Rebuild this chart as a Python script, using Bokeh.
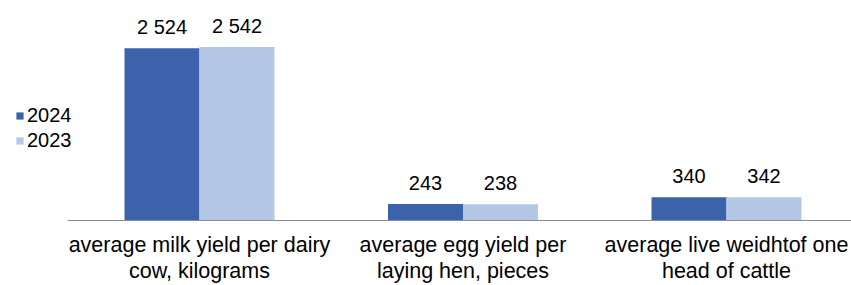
from bokeh.plotting import figure
from bokeh.models import ColumnDataSource, Legend, LegendItem, FixedTicker
from bokeh.embed import file_html
from bokeh.resources import INLINE
from bokeh.core.properties import value
import numpy as np

categories = ["average milk yield per dairy\ncow, kilograms",
              "average egg yield per\nlaying hen, pieces",
              "average live weidhtof one\nhead of cattle"]
series_names = ["2024", "2023"]
values_2024 = [2524, 243, 340]
values_2023 = [2542, 238, 342]

colors = ["#3B62AB", "#B4C7E7"]
FONT = "Liberation Sans"

x = np.arange(len(categories))
bw = 0.2846
off = bw / 2

def fmt(v):
    return f"{v:,}".replace(",", " ")

p = figure(width=851, height=285, output_backend="svg", toolbar_location=None,
           x_range=(-0.7552, 2.4744), y_range=(0, 3224),
           min_border_left=0, min_border_right=0, min_border_top=0, min_border_bottom=0)

src1 = ColumnDataSource(dict(x=x - off, top=values_2024, lab=[fmt(v) for v in values_2024]))
src2 = ColumnDataSource(dict(x=x + off, top=values_2023, lab=[fmt(v) for v in values_2023]))

r1 = p.vbar(x="x", top="top", width=bw, source=src1, fill_color=colors[0], line_color=None)
r2 = p.vbar(x="x", top="top", width=bw, source=src2, fill_color=colors[1], line_color=None)

for s in (src1, src2):
    p.text(x="x", y="top", text="lab", source=s, text_align="center", text_baseline="alphabetic",
           y_offset=-21, text_font=value(FONT), text_font_size="20px", text_color="#000000")

p.yaxis.visible = False
p.xgrid.visible = False
p.ygrid.visible = False
p.outline_line_color = None

ax = p.xaxis[0]
ax.bounds = (-0.501, 2.4744)
ax.ticker = FixedTicker(ticks=list(x))
ax.major_label_overrides = {int(i): c for i, c in zip(x, categories)}
ax.major_tick_line_color = None
ax.minor_tick_line_color = None
ax.axis_line_color = "#8C8C8C"
ax.axis_line_width = 1
ax.major_label_text_font = FONT
ax.major_label_text_font_size = "21.5px"
ax.major_label_text_line_height = 1.1
ax.major_label_text_color = "#000000"
ax.major_label_standoff = 6

legend = Legend(items=[LegendItem(label=series_names[0], renderers=[r1]),
                       LegendItem(label=series_names[1], renderers=[r2])],
                location=(15, 68), glyph_width=9, glyph_height=9, label_standoff=3,
                padding=0, margin=0, spacing=2, border_line_color=None,
                background_fill_alpha=0, label_text_font=FONT, label_text_font_size="20px",
                label_text_color="#000000")
p.add_layout(legend, "center")

open("out.html", "w").write(file_html(p, INLINE))
